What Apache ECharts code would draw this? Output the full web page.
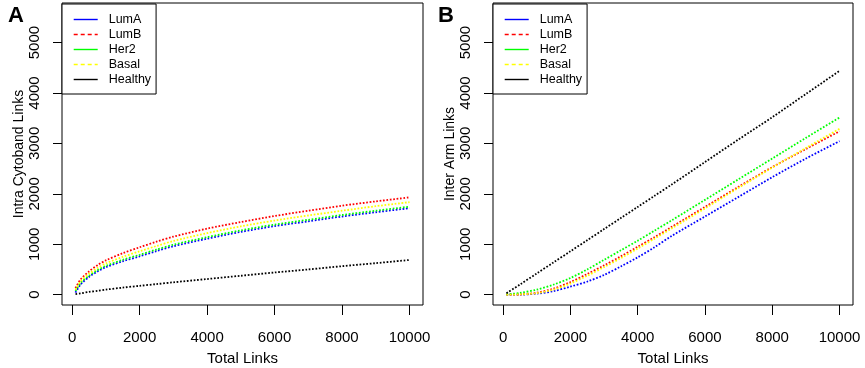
<!DOCTYPE html>
<html>
<head>
<meta charset="utf-8">
<script src="https://cdn.jsdelivr.net/npm/echarts@6/dist/echarts.min.js"></script>
<style>
  html, body { margin: 0; padding: 0; background: #fff; }
  #chart { width: 865px; height: 368px; }
</style>
</head>
<body>
<div id="chart"></div>
<script>
// values
var subtypes = ["LumA", "LumB", "Her2", "Basal", "Healthy"];
var xTicks = [0, 2000, 4000, 6000, 8000, 10000];
var yTicks = [0, 1000, 2000, 3000, 4000, 5000];

// panel A - intra cytoband links
var xA = [100, 250, 500, 750, 1000, 1500, 2000, 2500, 3000, 4000, 5000, 6000, 7000, 8000, 9000, 10000];
var lumA_A = [40, 200, 350, 460, 545, 662, 760, 865, 960, 1110, 1245, 1360, 1455, 1550, 1635, 1715];
var lumB_A = [130, 300, 460, 585, 680, 822, 940, 1050, 1150, 1310, 1440, 1560, 1665, 1765, 1850, 1930];
var her2_A = [75, 230, 375, 485, 570, 690, 790, 895, 990, 1140, 1275, 1390, 1485, 1580, 1665, 1745];
var basal_A = [100, 265, 415, 530, 620, 750, 860, 965, 1065, 1220, 1355, 1470, 1570, 1665, 1755, 1835];
var healthy_A = [10, 25, 55, 75, 100, 140, 175, 210, 245, 310, 375, 440, 500, 565, 625, 688];

// panel B - inter arm links
var xB = [100, 500, 1000, 1500, 2000, 2500, 3000, 3500, 4000, 4500, 5000, 6000, 7000, 8000, 9000, 10000];
var lumA_B = [0, 0, 20, 70, 160, 260, 390, 560, 740, 940, 1160, 1550, 1940, 2330, 2700, 3045];
var lumB_B = [0, 5, 40, 120, 250, 410, 580, 760, 950, 1140, 1340, 1740, 2140, 2530, 2890, 3240];
var her2_B = [5, 35, 100, 200, 330, 500, 690, 880, 1070, 1270, 1470, 1880, 2290, 2700, 3110, 3514];
var basal_B = [0, 5, 30, 100, 220, 375, 545, 725, 915, 1110, 1310, 1710, 2120, 2520, 2910, 3290];
var healthy_B = [30, 200, 420, 640, 860, 1080, 1300, 1520, 1740, 1960, 2180, 2630, 3080, 3520, 3980, 4440];

var colors = ["#0000ff", "#ff0000", "#00ff00", "#ffff00", "#000000"];
var legendDash = ["solid", "dashed", "solid", "dashed", "solid"];
var FONT = "'Liberation Sans', Arial, sans-serif";

function pairs(xs, ys) {
  var out = [];
  for (var i = 0; i < xs.length; i++) out.push([xs[i], ys[i]]);
  return out;
}

function plain(v) {
  return String(v);
}

function makeSeries(idx, xs, list) {
  return list.map(function (ys, i) {
    return {
      name: subtypes[i],
      type: "line",
      xAxisIndex: idx,
      yAxisIndex: idx,
      data: pairs(xs, ys),
      symbol: "none",
      smooth: 0.3,
      animation: false,
      lineStyle: { color: colors[i], width: 1.8, type: [1.7, 1.7], cap: "butt" },
      itemStyle: { color: colors[i] },
    };
  });
}

function xAxisCfg(idx) {
  return {
    type: "value",
    gridIndex: idx,
    min: -300,
    max: 10400,
    name: "Total Links",
    nameLocation: "middle",
    nameGap: 46,
    nameTextStyle: { color: "#000", fontSize: 15, fontFamily: FONT },
    axisLine: { show: false, onZero: false },
    splitLine: { show: false },
    axisTick: { show: true, length: 10, customValues: xTicks, lineStyle: { color: "#000", width: 1 } },
    axisLabel: { customValues: xTicks, formatter: plain, margin: 25, color: "#000", fontSize: 15, fontFamily: FONT },
  };
}

function yAxisCfg(idx, title) {
  return {
    type: "value",
    gridIndex: idx,
    min: -205,
    max: 5785,
    name: title,
    nameLocation: "middle",
    nameGap: 36,
    nameMoveOverlap: false,
    nameTextStyle: { color: "#000", fontSize: 14, fontFamily: FONT },
    axisLine: { show: false, onZero: false },
    splitLine: { show: false },
    axisTick: { show: true, length: 9, customValues: yTicks, lineStyle: { color: "#000", width: 1 } },
    axisLabel: { customValues: yTicks, formatter: plain, rotate: 90, margin: 20, color: "#000", fontSize: 15, fontFamily: FONT },
  };
}

function legendCfg(left) {
  return {
    left: left,
    top: 4,
    orient: "vertical",
    selectedMode: false,
    backgroundColor: "#fff",
    borderColor: "#000",
    borderWidth: 1,
    borderRadius: 0,
    padding: [9, 5, 8, 11],
    itemWidth: 24,
    itemHeight: 14,
    itemGap: 2,
    textStyle: { color: "#000", fontSize: 12.5, fontFamily: FONT, padding: [0, 0, 0, 6] },
    data: subtypes.map(function (s, i) {
      return {
        name: s,
        itemStyle: { opacity: 0 },
        lineStyle: { color: colors[i], width: 1.4, type: legendDash[i] === "dashed" ? [4, 3] : "solid" },
      };
    }),
  };
}

var chart = echarts.init(document.getElementById("chart"), null, { renderer: "canvas" });
var option = {
  backgroundColor: "#fff",
  animation: false,
  title: [
    { text: "A", left: 3, top: 0, textStyle: { fontSize: 22, fontWeight: "bold", color: "#000", fontFamily: FONT } },
    { text: "B", left: 433, top: 0, textStyle: { fontSize: 22, fontWeight: "bold", color: "#000", fontFamily: FONT } },
  ],
  legend: [legendCfg(62), legendCfg(493)],
  grid: [
    { left: 62, top: 3, width: 361, height: 302, show: true, borderColor: "#000", borderWidth: 1, outerBoundsMode: "none" },
    { left: 493, top: 3, width: 360, height: 302, show: true, borderColor: "#000", borderWidth: 1, outerBoundsMode: "none" },
  ],
  xAxis: [xAxisCfg(0), xAxisCfg(1)],
  yAxis: [yAxisCfg(0, "Intra Cytoband Links"), yAxisCfg(1, "Inter Arm Links")],
  series: makeSeries(0, xA, [lumA_A, lumB_A, her2_A, basal_A, healthy_A])
    .concat(makeSeries(1, xB, [lumA_B, lumB_B, her2_B, basal_B, healthy_B])),
};
chart.setOption(option);
</script>
</body>
</html>
